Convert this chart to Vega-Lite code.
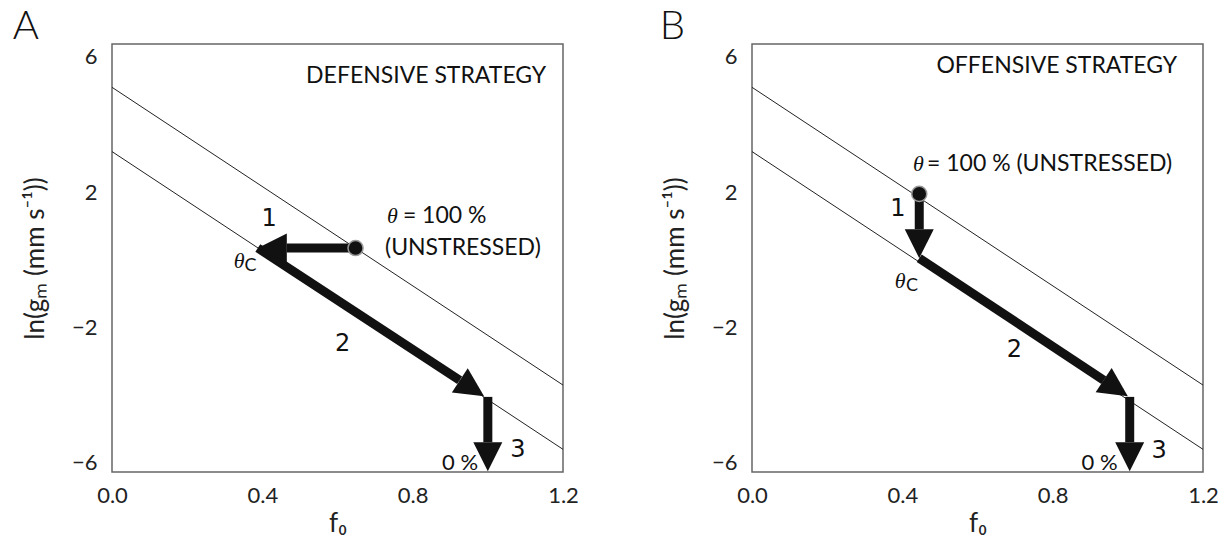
{
  "$schema": "https://vega.github.io/schema/vega-lite/v6.json",
  "background": "white",
  "padding": {"left": 12, "top": 6, "right": 5, "bottom": 5},
  "spacing": 189,
  "bounds": "flush",
  "config": {
    "view": {"stroke": "#666", "strokeWidth": 1.5},
    "axis": {"domain": false, "ticks": false, "grid": false, "labelFont": "Lato", "labelFontWeight": 400, "labelFontSize": 22, "labelColor": "#222", "titleFont": "Lato", "titleFontWeight": 400, "titleFontSize": 26, "titleColor": "#222"},
    "text": {"font": "Lato", "color": "#111"}
  },
  "datasets": {
    "lines": [
      {"line": "upper", "f0": 0, "lng": 5.1},
      {"line": "upper", "f0": 1.2, "lng": -3.7},
      {"line": "lower", "f0": 0, "lng": 3.2},
      {"line": "lower", "f0": 1.2, "lng": -5.6}
    ],
    "start": [
      {"panel": "A", "f0": 0.648, "lng": 0.35},
      {"panel": "B", "f0": 0.445, "lng": 1.95}
    ],
    "shafts": [
      {"panel": "A", "step": "1", "f0": 0.648, "lng": 0.35, "f0_end": 0.465, "lng_end": 0.35},
      {"panel": "A", "step": "2", "f0": 0.388, "lng": 0.35, "f0_end": 0.925, "lng_end": -3.56},
      {"panel": "A", "step": "3", "f0": 1.0, "lng": -4.05, "f0_end": 1.0, "lng_end": -5.39},
      {"panel": "B", "step": "1", "f0": 0.445, "lng": 1.95, "f0_end": 0.445, "lng_end": 0.907},
      {"panel": "B", "step": "2", "f0": 0.445, "lng": 0.05, "f0_end": 0.936, "lng_end": -3.557},
      {"panel": "B", "step": "3", "f0": 1.005, "lng": -4.05, "f0_end": 1.005, "lng_end": -5.39}
    ],
    "heads": [
      {"panel": "A", "step": "1", "dir": "left", "f0": 0.388, "lng": 0.35},
      {"panel": "A", "step": "2", "dir": "diag", "f0": 0.99, "lng": -4.03},
      {"panel": "A", "step": "3", "dir": "down", "f0": 1.0, "lng": -6.25},
      {"panel": "B", "step": "1", "dir": "down", "f0": 0.445, "lng": 0.05},
      {"panel": "B", "step": "2", "dir": "diag", "f0": 1.0, "lng": -4.03},
      {"panel": "B", "step": "3", "dir": "down", "f0": 1.005, "lng": -6.25}
    ],
    "texts": [
      {"panel": "A", "role": "letter", "label": "A", "f0": -0.229, "lng": 6.883},
      {"panel": "A", "role": "heading", "label": "DEFENSIVE STRATEGY", "f0": 1.155, "lng": 5.42},
      {"panel": "A", "role": "theta", "label": "θ", "f0": 0.746, "lng": 1.3},
      {"panel": "A", "role": "note", "label": "= 100 %", "f0": 0.774, "lng": 1.3},
      {"panel": "A", "role": "note", "label": "(UNSTRESSED)", "f0": 0.7264, "lng": 0.354},
      {"panel": "A", "role": "theta", "label": "θ", "f0": 0.338, "lng": -0.03},
      {"panel": "A", "role": "sub", "label": "C", "f0": 0.3686, "lng": -0.19},
      {"panel": "A", "role": "step", "label": "1", "f0": 0.418, "lng": 1.21},
      {"panel": "A", "role": "step", "label": "2", "f0": 0.6136, "lng": -2.5},
      {"panel": "A", "role": "step", "label": "3", "f0": 1.08, "lng": -5.62},
      {"panel": "A", "role": "end", "label": "0 %", "f0": 0.974, "lng": -6.0},
      {"panel": "B", "role": "letter", "label": "B", "f0": -0.2115, "lng": 6.883},
      {"panel": "B", "role": "heading", "label": "OFFENSIVE STRATEGY", "f0": 1.131, "lng": 5.73},
      {"panel": "B", "role": "theta", "label": "θ", "f0": 0.443, "lng": 2.82},
      {"panel": "B", "role": "note", "label": "= 100 % (UNSTRESSED)", "f0": 0.4657, "lng": 2.82},
      {"panel": "B", "role": "theta", "label": "θ", "f0": 0.394, "lng": -0.636},
      {"panel": "B", "role": "sub", "label": "C", "f0": 0.426, "lng": -0.78},
      {"panel": "B", "role": "step", "label": "1", "f0": 0.3885, "lng": 1.51},
      {"panel": "B", "role": "step", "label": "2", "f0": 0.698, "lng": -2.65},
      {"panel": "B", "role": "step", "label": "3", "f0": 1.0836, "lng": -5.65},
      {"panel": "B", "role": "end", "label": "0 %", "f0": 0.9726, "lng": -6.0}
    ]
  },
  "hconcat": [
    {
      "width": 451, "height": 428,
      "encoding": {
        "x": {"field": "f0", "type": "quantitative", "scale": {"domain": [0, 1.2], "nice": false, "zero": false}, "axis": {"values": [0, 0.4, 0.8, 1.2], "format": ".1f", "labelPadding": 13, "labelFlush": false, "title": "f₀", "titlePadding": 4}},
        "y": {"field": "lng", "type": "quantitative", "scale": {"domain": [-6.27, 6.38], "nice": false, "zero": false}, "axis": {"values": [-6, -2, 2, 6], "labelPadding": 15, "labelFlush": false, "title": "ln(gₘ (mm s⁻¹))", "titlePadding": 23}}
      },
      "layer": [
        {"data": {"name": "lines"}, "mark": {"type": "line", "color": "#222", "strokeWidth": 1, "clip": true}, "encoding": {"detail": {"field": "line"}}},
        {"data": {"name": "shafts"}, "transform": [{"filter": "datum.panel === 'A'"}], "mark": {"type": "rule", "color": "#111", "strokeWidth": 9, "strokeCap": "butt"}, "encoding": {"x2": {"field": "f0_end"}, "y2": {"field": "lng_end"}}},
        {"data": {"name": "heads"}, "transform": [{"filter": "datum.panel === 'A' && datum.dir === 'left'"}], "mark": {"type": "point", "shape": "M0,0L-1,-2L1,-2Z", "size": 841, "angle": 90, "filled": true, "color": "#111", "opacity": 1}},
        {"data": {"name": "heads"}, "transform": [{"filter": "datum.panel === 'A' && datum.dir === 'down'"}], "mark": {"type": "point", "shape": "M0,0L-1,-2L1,-2Z", "size": 841, "angle": 0, "filled": true, "color": "#111", "opacity": 1}},
        {"data": {"name": "heads"}, "transform": [{"filter": "datum.panel === 'A' && datum.dir === 'diag'"}], "mark": {"type": "point", "shape": "M0,0L-1,-2L1,-2Z", "size": 841, "angle": -56.8, "filled": true, "color": "#111", "opacity": 1}},
        {"data": {"name": "start"}, "transform": [{"filter": "datum.panel === 'A'"}], "mark": {"type": "point", "shape": "circle", "size": 227, "filled": true, "fill": "#111", "stroke": "#999", "strokeWidth": 1.5, "opacity": 1}},
        {"data": {"name": "texts"}, "transform": [{"filter": "datum.panel === 'A' && datum.role === 'letter'"}], "mark": {"type": "text", "fontSize": 40, "fontWeight": 300, "align": "center", "baseline": "middle"}, "encoding": {"text": {"field": "label"}}},
        {"data": {"name": "texts"}, "transform": [{"filter": "datum.panel === 'A' && datum.role === 'heading'"}], "mark": {"type": "text", "fontSize": 23, "fontWeight": 400, "align": "right", "baseline": "middle"}, "encoding": {"text": {"field": "label"}}},
        {"data": {"name": "texts"}, "transform": [{"filter": "datum.panel === 'A' && datum.role === 'note'"}], "mark": {"type": "text", "fontSize": 23, "fontWeight": 400, "align": "left", "baseline": "middle"}, "encoding": {"text": {"field": "label"}}},
        {"data": {"name": "texts"}, "transform": [{"filter": "datum.panel === 'A' && datum.role === 'theta'"}], "mark": {"type": "text", "font": "Liberation Serif", "fontStyle": "italic", "fontSize": 22, "align": "center", "baseline": "middle"}, "encoding": {"text": {"field": "label"}}},
        {"data": {"name": "texts"}, "transform": [{"filter": "datum.panel === 'A' && datum.role === 'sub'"}], "mark": {"type": "text", "fontSize": 18, "fontWeight": 400, "align": "center", "baseline": "middle"}, "encoding": {"text": {"field": "label"}}},
        {"data": {"name": "texts"}, "transform": [{"filter": "datum.panel === 'A' && datum.role === 'step'"}], "mark": {"type": "text", "font": "DejaVu Sans", "fontSize": 24, "align": "center", "baseline": "middle"}, "encoding": {"text": {"field": "label"}}},
        {"data": {"name": "texts"}, "transform": [{"filter": "datum.panel === 'A' && datum.role === 'end'"}], "mark": {"type": "text", "fontSize": 22, "fontWeight": 400, "align": "right", "baseline": "middle"}, "encoding": {"text": {"field": "label"}}}
      ]
    },
    {
      "width": 451, "height": 428,
      "encoding": {
        "x": {"field": "f0", "type": "quantitative", "scale": {"domain": [0, 1.2], "nice": false, "zero": false}, "axis": {"values": [0, 0.4, 0.8, 1.2], "format": ".1f", "labelPadding": 13, "labelFlush": false, "title": "f₀", "titlePadding": 4}},
        "y": {"field": "lng", "type": "quantitative", "scale": {"domain": [-6.27, 6.38], "nice": false, "zero": false}, "axis": {"values": [-6, -2, 2, 6], "labelPadding": 15, "labelFlush": false, "title": "ln(gₘ (mm s⁻¹))", "titlePadding": 23}}
      },
      "layer": [
        {"data": {"name": "lines"}, "mark": {"type": "line", "color": "#222", "strokeWidth": 1, "clip": true}, "encoding": {"detail": {"field": "line"}}},
        {"data": {"name": "shafts"}, "transform": [{"filter": "datum.panel === 'B'"}], "mark": {"type": "rule", "color": "#111", "strokeWidth": 9, "strokeCap": "butt"}, "encoding": {"x2": {"field": "f0_end"}, "y2": {"field": "lng_end"}}},
        {"data": {"name": "heads"}, "transform": [{"filter": "datum.panel === 'B' && datum.dir === 'down'"}], "mark": {"type": "point", "shape": "M0,0L-1,-2L1,-2Z", "size": 841, "angle": 0, "filled": true, "color": "#111", "opacity": 1}},
        {"data": {"name": "heads"}, "transform": [{"filter": "datum.panel === 'B' && datum.dir === 'diag'"}], "mark": {"type": "point", "shape": "M0,0L-1,-2L1,-2Z", "size": 841, "angle": -56.5, "filled": true, "color": "#111", "opacity": 1}},
        {"data": {"name": "start"}, "transform": [{"filter": "datum.panel === 'B'"}], "mark": {"type": "point", "shape": "circle", "size": 227, "filled": true, "fill": "#111", "stroke": "#999", "strokeWidth": 1.5, "opacity": 1}},
        {"data": {"name": "texts"}, "transform": [{"filter": "datum.panel === 'B' && datum.role === 'letter'"}], "mark": {"type": "text", "fontSize": 40, "fontWeight": 300, "align": "center", "baseline": "middle"}, "encoding": {"text": {"field": "label"}}},
        {"data": {"name": "texts"}, "transform": [{"filter": "datum.panel === 'B' && datum.role === 'heading'"}], "mark": {"type": "text", "fontSize": 23, "fontWeight": 400, "align": "right", "baseline": "middle"}, "encoding": {"text": {"field": "label"}}},
        {"data": {"name": "texts"}, "transform": [{"filter": "datum.panel === 'B' && datum.role === 'note'"}], "mark": {"type": "text", "fontSize": 23, "fontWeight": 400, "align": "left", "baseline": "middle"}, "encoding": {"text": {"field": "label"}}},
        {"data": {"name": "texts"}, "transform": [{"filter": "datum.panel === 'B' && datum.role === 'theta'"}], "mark": {"type": "text", "font": "Liberation Serif", "fontStyle": "italic", "fontSize": 22, "align": "center", "baseline": "middle"}, "encoding": {"text": {"field": "label"}}},
        {"data": {"name": "texts"}, "transform": [{"filter": "datum.panel === 'B' && datum.role === 'sub'"}], "mark": {"type": "text", "fontSize": 18, "fontWeight": 400, "align": "center", "baseline": "middle"}, "encoding": {"text": {"field": "label"}}},
        {"data": {"name": "texts"}, "transform": [{"filter": "datum.panel === 'B' && datum.role === 'step'"}], "mark": {"type": "text", "font": "DejaVu Sans", "fontSize": 24, "align": "center", "baseline": "middle"}, "encoding": {"text": {"field": "label"}}},
        {"data": {"name": "texts"}, "transform": [{"filter": "datum.panel === 'B' && datum.role === 'end'"}], "mark": {"type": "text", "fontSize": 22, "fontWeight": 400, "align": "right", "baseline": "middle"}, "encoding": {"text": {"field": "label"}}}
      ]
    }
  ]
}
